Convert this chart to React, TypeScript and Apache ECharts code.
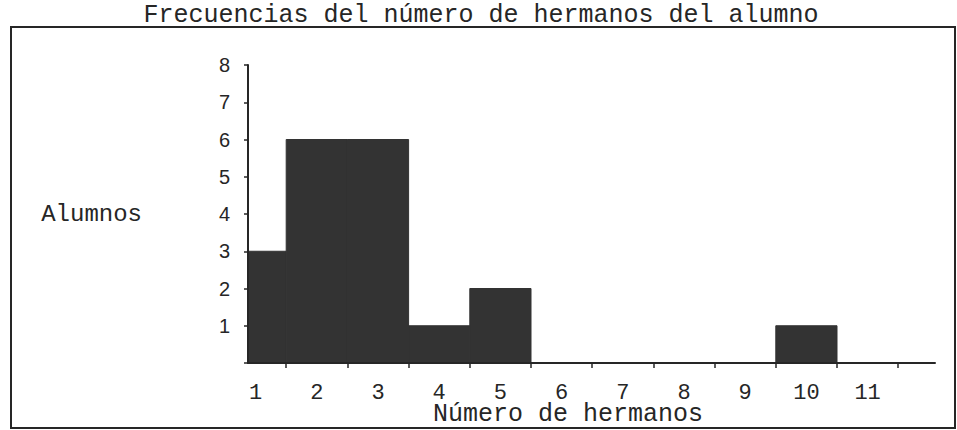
import React, { useEffect, useRef } from 'react';
import * as echarts from 'echarts';

// ---- data ----
const titleText = 'Frecuencias del número de hermanos del alumno';
const xAxisName = 'Número de hermanos';
const yAxisName = 'Alumnos';
const categories = ['1', '2', '3', '4', '5', '6', '7', '8', '9', '10', '11'];
const alumnos = [3, 6, 6, 1, 2, 0, 0, 0, 0, 1, 0];
const yMin = 0;
const yMax = 8;
const yStep = 1;

// ---- layout / style ----
const W = 957;
const H = 430;
const PLOT_TOP = 65;
const PLOT_BOTTOM = 363;
const CAT_LEFT = 225;
const BAND = 61.2;
const AXIS_LEFT = 248;
const AXIS_RIGHT = 935;
const INK = '#262626';
const BAR = '#333333';
const MONO = '"Liberation Mono", "DejaVu Sans Mono", monospace';
const SANS = '"Liberation Sans", Arial, sans-serif';

const xMin = (AXIS_LEFT - CAT_LEFT) / BAND - 0.5;
const xMax = (AXIS_RIGHT - CAT_LEFT) / BAND - 0.5;

export default function App() {
  const ref = useRef<HTMLDivElement>(null);

  useEffect(() => {
    if (!ref.current) return;
    const chart = echarts.init(ref.current, undefined, { renderer: 'svg' });
    const plotH = PLOT_BOTTOM - PLOT_TOP;
    const option: any = {
      animation: false,
      backgroundColor: '#ffffff',
      grid: [
        {
          left: AXIS_LEFT,
          width: AXIS_RIGHT - AXIS_LEFT,
          top: PLOT_TOP,
          height: plotH,
          containLabel: false,
          outerBoundsMode: 'none',
        },
        {
          left: CAT_LEFT,
          width: BAND * categories.length,
          top: PLOT_TOP,
          height: plotH,
          containLabel: false,
          outerBoundsMode: 'none',
        },
      ],
      xAxis: [
        {
          type: 'value',
          gridIndex: 0,
          z: 5,
          min: xMin,
          max: xMax,
          axisLine: { show: true, onZero: false, lineStyle: { color: INK, width: 2 } },
          axisTick: { show: false },
          axisLabel: { show: false },
          splitLine: { show: false },
        },
        {
          type: 'category',
          gridIndex: 1,
          position: 'bottom',
          z: 5,
          data: categories,
          boundaryGap: true,
          axisLine: { show: false, onZero: false },
          axisTick: {
            show: true,
            inside: false,
            length: 5,
            lineStyle: { color: INK, width: 1.5 },
            interval: (i: number) => i !== 0,
          },
          axisLabel: { fontFamily: MONO, fontSize: 22, color: INK, margin: 19 },
          splitLine: { show: false },
        },
      ],
      yAxis: [
        {
          type: 'value',
          gridIndex: 0,
          z: 5,
          min: yMin,
          max: yMax,
          interval: yStep,
          axisLine: { show: true, onZero: false, lineStyle: { color: INK, width: 2 } },
          axisTick: { show: true, length: 4, lineStyle: { color: INK, width: 1.5 } },
          axisLabel: {
            fontFamily: SANS,
            fontSize: 20,
            color: INK,
            margin: 18,
            padding: [4, 0, 0, 0],
            formatter: (v: number) => (v === yMin ? '' : String(v)),
          },
          splitLine: { show: false },
          name: yAxisName,
          nameLocation: 'middle',
          nameRotate: 0,
          nameGap: 106,
          nameTextStyle: {
            fontFamily: MONO,
            fontSize: 24,
            color: INK,
            align: 'right',
            verticalAlign: 'middle',
            padding: [10, 0, 0, 0],
          },
        },
        { type: 'value', gridIndex: 1, min: yMin, max: yMax, show: false },
      ],
      series: [
        {
          type: 'custom',
          xAxisIndex: 0,
          yAxisIndex: 0,
          z: 1,
          clip: true,
          data: alumnos.map((v, i) => [i, v]),
          renderItem: (_params: any, api: any) => {
            const i = api.value(0);
            const v = api.value(1);
            if (!v) return null;
            const p0 = api.coord([i - 0.5, v]);
            const p1 = api.coord([i + 0.5, 0]);
            return {
              type: 'rect',
              shape: { x: p0[0], y: p0[1], width: p1[0] - p0[0], height: p1[1] - p0[1] },
              style: { fill: BAR, stroke: BAR, lineWidth: 1 },
            };
          },
        },
      ],
      graphic: [
        {
          type: 'rect',
          z: -1,
          shape: { x: 11, y: 27, width: 944, height: 401 },
          style: { fill: 'none', stroke: INK, lineWidth: 2 },
        },
        {
          type: 'text',
          x: 481,
          y: 15,
          style: {
            text: titleText,
            fontFamily: MONO,
            fontSize: 25,
            fill: INK,
            textAlign: 'center',
            textVerticalAlign: 'middle',
          },
        },
        {
          type: 'text',
          x: 568,
          y: 414,
          style: {
            text: xAxisName,
            fontFamily: MONO,
            fontSize: 25,
            fill: INK,
            textAlign: 'center',
            textVerticalAlign: 'middle',
          },
        },
      ],
    };
    chart.setOption(option);
    return () => chart.dispose();
  }, []);

  return (
    <div
      ref={ref}
      style={{ position: 'absolute', left: 0, top: 0, width: W, height: H, background: '#fff' }}
    />
  );
}
